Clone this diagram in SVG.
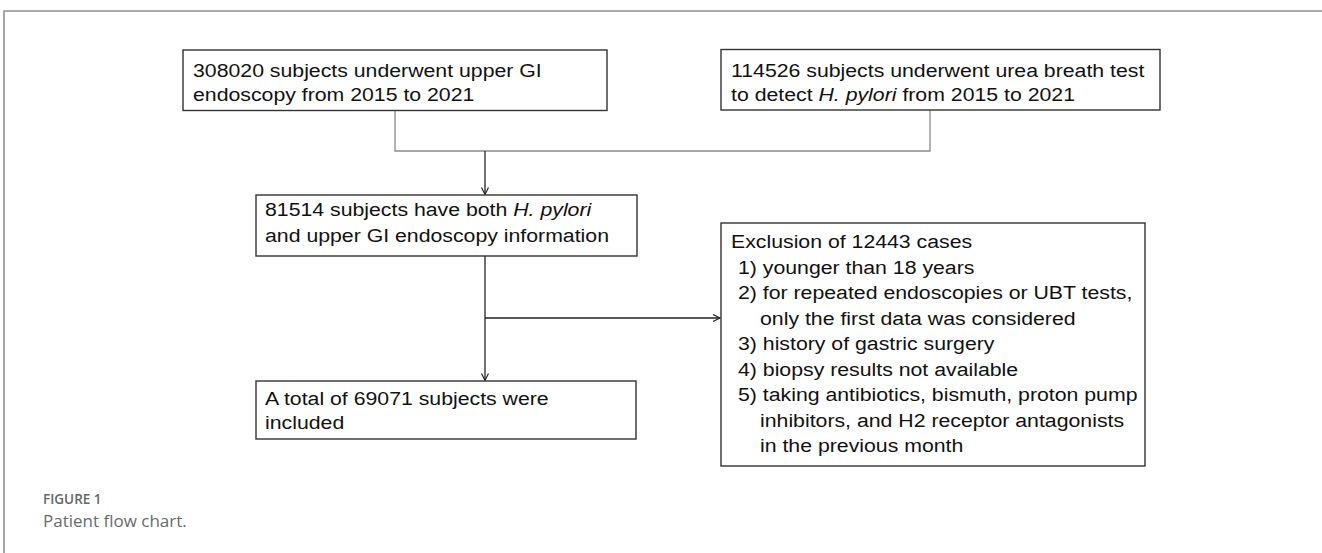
<svg xmlns="http://www.w3.org/2000/svg" width="1322" height="553" viewBox="0 0 1322 553">
<style>
.box{fill:#fff;stroke:#333;stroke-width:1.4}
.t{font-family:"Liberation Sans",Arial,sans-serif;font-size:19px;fill:#111}
.i{font-style:italic}
.gl{stroke:#8a8a8a;stroke-width:1.3;fill:none}
.bl{stroke:#222;stroke-width:1.3;fill:none}
.frame{stroke:#8f8f8f;stroke-width:1.6;fill:none}
.cap1{font-family:"Open Sans","Liberation Sans",sans-serif;font-size:13.5px;font-weight:600;fill:#666}
.cap2{font-family:"Open Sans","Liberation Sans",sans-serif;font-size:17px;fill:#6a6a6a}
</style>
<defs>
<marker id="arr" markerWidth="10" markerHeight="10" refX="8" refY="4" orient="auto" markerUnits="userSpaceOnUse">
<path d="M1,0.5 L8,4 L1,7.5" fill="none" stroke="#222" stroke-width="1.2"/>
</marker>
</defs>
<path class="frame" d="M4,553 L4,11 L1322,11"/>
<g id="connectors">
<path class="gl" d="M395,110.5 L395,151 L930,151 L930,110"/>
<path class="bl" d="M485,151 L485,194.5" marker-end="url(#arr)"/>
<path class="bl" d="M485,256 L485,380.5" marker-end="url(#arr)"/>
<path class="bl" d="M485,318 L720,318" marker-end="url(#arr)"/>
</g>
<g id="node1">
<rect class="box" x="183" y="50" width="424" height="60.5"/>
<text class="t" transform="translate(193,77) scale(1.12,1)">308020 subjects underwent upper GI</text>
<text class="t" transform="translate(193,101) scale(1.12,1)">endoscopy from 2015 to 2021</text>
</g>
<g id="node2">
<rect class="box" x="721" y="49.5" width="439" height="60.5"/>
<text class="t" transform="translate(731,77) scale(1.12,1)">114526 subjects underwent urea breath test</text>
<text class="t" transform="translate(731,101) scale(1.12,1)">to detect <tspan class="i">H. pylori</tspan> from 2015 to 2021</text>
</g>
<g id="node3">
<rect class="box" x="256" y="195" width="381" height="61"/>
<text class="t" transform="translate(265,216) scale(1.12,1)">81514 subjects have both <tspan class="i">H. pylori</tspan></text>
<text class="t" transform="translate(265,241.5) scale(1.12,1)">and upper GI endoscopy information</text>
</g>
<g id="node4">
<rect class="box" x="256" y="381" width="380" height="58"/>
<text class="t" transform="translate(265,405) scale(1.12,1)">A total of 69071 subjects were</text>
<text class="t" transform="translate(265,429) scale(1.12,1)">included</text>
</g>
<g id="node5">
<rect class="box" x="721" y="223" width="424" height="243"/>
<text class="t" transform="translate(731,247.5) scale(1.12,1)">Exclusion of 12443 cases</text>
<text class="t" transform="translate(738,273.5) scale(1.12,1)">1) younger than 18 years</text>
<text class="t" transform="translate(738,299) scale(1.12,1)">2) for repeated endoscopies or UBT tests,</text>
<text class="t" transform="translate(760,324.5) scale(1.12,1)">only the first data was considered</text>
<text class="t" transform="translate(738,350) scale(1.12,1)">3) history of gastric surgery</text>
<text class="t" transform="translate(738,375.5) scale(1.12,1)">4) biopsy results not available</text>
<text class="t" transform="translate(738,401) scale(1.12,1)">5) taking antibiotics, bismuth, proton pump</text>
<text class="t" transform="translate(760,426.5) scale(1.12,1)">inhibitors, and H2 receptor antagonists</text>
<text class="t" transform="translate(760,452) scale(1.12,1)">in the previous month</text>
</g>
<g id="caption">
<text class="cap1" x="43" y="504">FIGURE 1</text>
<text class="cap2" x="43" y="527">Patient flow chart.</text>
</g>
</svg>
